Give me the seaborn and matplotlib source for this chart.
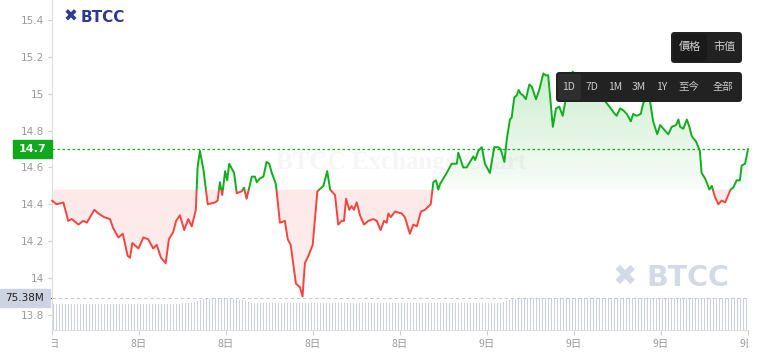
import numpy as np
import pandas as pd
import matplotlib
matplotlib.use("Agg")
import matplotlib.pyplot as plt
import seaborn as sns
from matplotlib.colors import LinearSegmentedColormap
from matplotlib.patches import Rectangle, FancyBboxPatch
from matplotlib.path import Path
from matplotlib.transforms import IdentityTransform

# ---------------- data ----------------
hours = [0.00, 0.16, 0.39, 0.56, 0.68, 0.91, 1.08, 1.20, 1.46, 1.60, 1.80, 2.00, 2.11, 2.29, 2.44,
         2.61, 2.69, 2.77, 2.98, 3.15, 3.32, 3.49, 3.61, 3.76, 3.92, 4.03, 4.18, 4.28, 4.41, 4.56,
         4.70, 4.82, 4.96, 5.02, 5.10, 5.22, 5.37, 5.62, 5.71, 5.79, 5.87, 5.97, 6.04, 6.11, 6.28,
         6.37, 6.54, 6.62, 6.71, 6.89, 7.00, 7.06, 7.17, 7.29, 7.40, 7.49, 7.58, 7.72, 7.86, 8.03,
         8.13, 8.23, 8.41, 8.55, 8.64, 8.72, 8.84, 8.99, 9.15, 9.36, 9.49, 9.59, 9.76, 9.87, 9.99,
         10.07, 10.14, 10.25, 10.33, 10.41, 10.51, 10.62, 10.76, 10.91, 11.08, 11.20, 11.33, 11.45,
         11.54, 11.60, 11.68, 11.83, 12.06, 12.17, 12.34, 12.46, 12.58, 12.72, 12.86, 13.06, 13.15,
         13.24, 13.32, 13.38, 13.61, 13.78, 13.96, 14.01, 14.18, 14.30, 14.41, 14.53, 14.59, 14.70,
         14.82, 14.93, 15.10, 15.25, 15.39, 15.47, 15.60, 15.68, 15.79, 15.85, 15.94, 16.02, 16.09,
         16.16, 16.25, 16.34, 16.46, 16.54, 16.69, 16.80, 16.94, 17.03, 17.11, 17.27, 17.38, 17.49,
         17.61, 17.75, 17.96, 18.14, 18.34, 18.55, 18.72, 18.90, 19.07, 19.22, 19.36, 19.47, 19.59,
         19.70, 19.82, 19.96, 20.04, 20.16, 20.30, 20.39, 20.53, 20.62, 20.73, 20.87, 20.97, 21.08,
         21.25, 21.37, 21.52, 21.60, 21.66, 21.77, 21.89, 21.98, 22.06, 22.21, 22.34, 22.40, 22.52,
         22.67, 22.75, 22.86, 22.98, 23.09, 23.21, 23.40, 23.49, 23.61, 23.72, 23.78, 23.90, 24.00]
price = [14.42, 14.40, 14.41, 14.31, 14.32, 14.29, 14.31, 14.30, 14.37, 14.35, 14.33, 14.32, 14.27, 14.22, 14.24,
         14.12, 14.11, 14.19, 14.16, 14.22, 14.21, 14.16, 14.18, 14.11, 14.08, 14.21, 14.25, 14.31, 14.34, 14.26,
         14.32, 14.28, 14.37, 14.60, 14.69, 14.59, 14.40, 14.41, 14.42, 14.52, 14.45, 14.58, 14.53, 14.62, 14.57,
         14.46, 14.47, 14.49, 14.43, 14.55, 14.55, 14.52, 14.54, 14.55, 14.63, 14.62, 14.57, 14.51, 14.30, 14.31,
         14.21, 14.18, 13.97, 13.95, 13.90, 14.08, 14.12, 14.18, 14.47, 14.50, 14.58, 14.48, 14.45, 14.29, 14.31,
         14.31, 14.43, 14.37, 14.39, 14.37, 14.41, 14.34, 14.29, 14.31, 14.32, 14.31, 14.26, 14.31,
         14.30, 14.35, 14.33, 14.36, 14.35, 14.33, 14.24, 14.29, 14.28, 14.36, 14.37, 14.40, 14.52,
         14.53, 14.48, 14.51, 14.57, 14.62, 14.62, 14.68, 14.60, 14.60, 14.63, 14.66, 14.64, 14.69,
         14.71, 14.62, 14.57, 14.71, 14.71, 14.70, 14.63, 14.75, 14.86, 14.87, 14.98, 14.99, 15.02,
         15.00, 14.99, 14.97, 15.05, 15.04, 14.97, 15.02, 15.11, 15.10, 15.10, 14.82, 14.92, 14.93,
         14.88, 15.00, 15.12, 15.05, 15.02, 14.97, 15.03, 14.99, 14.96, 14.93, 14.90, 14.88, 14.92,
         14.91, 14.89, 14.85, 14.89, 14.88, 14.89, 14.95, 14.98, 14.96, 14.85, 14.78, 14.83, 14.81,
         14.78, 14.82, 14.83, 14.86, 14.82, 14.81, 14.86, 14.82, 14.77, 14.74, 14.69, 14.57, 14.54,
         14.48, 14.50, 14.44, 14.40, 14.42, 14.41, 14.48, 14.49, 14.53, 14.53, 14.61, 14.62, 14.70]
base_price = 14.48
last_price = 14.7

volume_m = [
    61.2, 61.4, 61.3, 61.1, 61.3, 61.4, 61.2, 61.3, 61.5, 61.3,
    61.2, 61.4, 61.3, 61.2, 61.3, 61.4, 61.5, 61.3, 61.2, 61.4,
    61.3, 61.5, 61.4, 61.3, 61.6, 61.4, 61.5, 61.7, 61.5, 61.6,
    61.8, 61.6, 61.9, 62.0, 61.8, 62.1, 62.0, 62.2, 62.1, 62.3,
    62.2, 62.4, 62.3, 62.5, 62.6, 62.8,
    63.5, 65.5, 68.0, 70.5,
    72.5, 73.5, 74.2, 74.6, 74.8, 74.7, 74.5, 74.7, 74.4, 74.0, 73.4, 72.5, 71.2,
    69.5, 67.5, 65.8, 64.5,
    63.0, 62.9, 63.1, 63.0, 62.8, 63.0, 63.1, 62.9, 63.0, 63.2,
    63.1, 63.0, 62.9, 63.1, 63.0, 63.2, 63.4, 63.6, 63.8, 64.0,
    64.1, 64.0, 63.9, 63.8, 63.6, 63.4, 63.2, 63.1, 63.0, 62.9,
    63.0, 63.1, 62.9, 63.0, 63.2, 63.0, 62.8, 62.9, 63.0, 63.1,
    63.0, 62.9, 63.0, 63.2, 63.1, 63.0, 62.9, 63.0, 63.1, 63.0,
    62.9, 63.1, 63.2, 63.0, 62.9, 63.0, 63.1, 63.3, 63.2, 63.0,
    63.1, 63.2, 63.3, 63.1, 63.0, 63.2, 63.3, 63.4, 63.2, 63.3,
    63.4, 63.5, 63.3, 63.4, 63.5, 63.6, 63.5, 63.6, 63.7, 63.8,
    63.9, 64.0,
    64.5, 66.5, 68.5, 70.5, 72.5, 73.8, 74.6,
    74.8, 74.9, 75.0, 74.9, 75.1, 75.0, 74.9, 75.0, 75.1, 75.2,
    75.0, 74.9, 75.0, 75.1, 75.0, 75.2, 75.1, 75.0, 74.9, 75.0,
    75.1, 75.2, 75.3, 75.1, 75.0, 75.1, 75.2, 75.0, 74.9, 75.0,
    75.1, 75.0, 75.2, 75.1, 75.0, 75.1, 75.2, 75.3, 75.2, 75.1,
    75.0, 75.1, 75.2, 75.1, 75.0, 74.9, 75.0, 75.1, 75.2, 75.1,
    75.0, 75.1, 75.2, 75.3, 75.2, 75.1, 75.2, 75.3, 75.38, 75.2,
    75.1, 75.2, 75.3, 75.2, 75.1, 75.2, 75.3, 75.2, 75.3, 75.2,
    75.1, 75.2, 75.3, 75.2, 75.3, 75.2]
volume_label = "75.38M"

y_ticks = [13.8, 14.0, 14.2, 14.4, 14.6, 14.8, 15.0, 15.2, 15.4]
y_labels = ["13.8", "14", "14.2", "14.4", "14.6", "14.8", "15", "15.2", "15.4"]
x_ticks = [0, 3, 6, 9, 12, 15, 18, 21, 24]
x_labels = ["8日", "8日", "8日", "8日", "8日", "9日", "9日", "9日", "9日"]
range_buttons = ["1D", "7D", "1M", "3M", "1Y", "至今", "全部"]
mode_buttons = ["價格", "市值"]

# ---------------- style ----------------
GREEN = "#12ad1e"
RED = "#f4443f"
CJK = ["Noto Sans CJK TC", "DejaVu Sans"]

sns.set_theme(style="white")
plt.rcParams["font.family"] = CJK

W, H = 763, 359
fig = plt.figure(figsize=(W / 100, H / 100), dpi=100)
fig.patch.set_facecolor("white")


def fx(x):
    return x / W


def fy(y):
    return 1 - y / H


rect = [fx(52), fy(330), fx(748) - fx(52), fy(0) - fy(330)]
vax = fig.add_axes(rect, zorder=0)
ax = fig.add_axes(rect, zorder=1)
ax.patch.set_alpha(0)

df = pd.DataFrame({"hour": hours, "price": price})
n_vol = len(volume_m)
vdf = pd.DataFrame({"hour": [(i + 0.5) * 24 / n_vol for i in range(n_vol)], "vol": volume_m})

# volume bars
vax.bar(vdf["hour"], vdf["vol"], width=0.42 * 24 / n_vol, color="#c9d0e2", linewidth=0)
vax.set_xlim(0, 24)
vax.set_ylim(0, 75.38 * 330 / 32)
vax.axhline(75.38, color="#c9c9c9", lw=0.8, ls=(0, (3, 2.5)))
vax.axis("off")

YMIN = 14.7 - (330 - 149) / 184.3
YMAX = 14.7 + 149 / 184.3

# gradient fills
t = np.array(hours)
p = np.array(price)
pg = ax.fill_between(t, p, base_price, where=p >= base_price, interpolate=True, color="none", lw=0)
pr = ax.fill_between(t, p, base_price, where=p <= base_price, interpolate=True, color="none", lw=0)

cm_g = LinearSegmentedColormap.from_list("g", [(0.07, 0.68, 0.12, 0.03), (0.07, 0.68, 0.12, 0.22)])
cm_r = LinearSegmentedColormap.from_list("r", [(0.96, 0.27, 0.25, 0.12), (0.96, 0.27, 0.25, 0.08)])
grad = np.linspace(0, 1, 256).reshape(-1, 1)

img = ax.imshow(grad, extent=[0, 24, base_price, 15.15], origin="lower", aspect="auto", cmap=cm_g, zorder=1)
img.set_clip_path(Path.make_compound_path(*pg.get_paths()), transform=ax.transData)
imr = ax.imshow(grad, extent=[0, 24, base_price, 13.88], origin="lower", aspect="auto", cmap=cm_r, zorder=1)
imr.set_clip_path(Path.make_compound_path(*pr.get_paths()), transform=ax.transData)

# price line (green above base, red below)
sns.lineplot(data=df, x="hour", y="price", ax=ax, color=GREEN, lw=1.4, zorder=3)
lg = ax.lines[-1]
clip_g = Rectangle((-1, base_price), 30, 5, transform=ax.transData)
lg.set_clip_path(clip_g)
sns.lineplot(data=df, x="hour", y="price", ax=ax, color=RED, lw=1.4, zorder=3)
lr = ax.lines[-1]
clip_r = Rectangle((-1, base_price - 5), 30, 5, transform=ax.transData)
lr.set_clip_path(clip_r)

ax.axhline(last_price, color=GREEN, lw=0.9, ls=(0, (2, 2)), zorder=2)

ax.set_xlim(0, 24)
ax.set_ylim(YMIN, YMAX)
ax.set_xlabel("")
ax.set_ylabel("")
ax.set_yticks(y_ticks)
ax.set_yticklabels(y_labels)
ax.set_xticks(x_ticks)
ax.set_xticklabels([])
ax.tick_params(axis="y", length=3, width=0.8, color="#cfcfcf", labelcolor="#9a9a9a", labelsize=7.5, pad=3, left=True)
ax.tick_params(axis="x", length=3.5, width=0.8, color="#cfcfcf", bottom=True, direction="out")
for lab in ax.get_yticklabels():
    lab.set_fontfamily(["DejaVu Sans"])
for s in ["top", "right"]:
    ax.spines[s].set_visible(False)
ax.spines["left"].set_color("#dedede")
ax.spines["bottom"].set_color("#dedede")
ax.spines["left"].set_linewidth(0.8)
ax.spines["bottom"].set_linewidth(0.8)

# x labels, clipped to the plot width
lax = fig.add_axes([fx(52), fy(359), fx(748) - fx(52), fy(330) - fy(359)], zorder=2)
lax.set_xlim(0, 24)
lax.set_ylim(0, 1)
lax.axis("off")
for xt, xl in zip(x_ticks, x_labels):
    lax.text(xt, 0.52, xl, ha="center", va="center", fontsize=7.5, color="#9a9a9a",
             family=CJK, clip_on=True)

# last price tag
fig.patches.append(Rectangle((fx(13), fy(158)), fx(52) - fx(13), fy(140) - fy(158),
                             transform=fig.transFigure, color="#10a81c", zorder=5))
fig.text(fx(32), fy(149), "14.7", ha="center", va="center", color="white", fontsize=8,
         fontweight="bold", family=["DejaVu Sans"], zorder=6)

# volume tag
fig.patches.append(Rectangle((fx(0), fy(307)), fx(50) - fx(0), fy(289) - fy(307),
                             transform=fig.transFigure, color="#cdd3e2", zorder=5))
fig.text(fx(24), fy(298), volume_label, ha="center", va="center", color="#222222", fontsize=7.5,
         family=["DejaVu Sans"], zorder=6)
fig.lines.append(plt.Line2D([fx(47), fx(51)], [fy(298), fy(298)], transform=fig.transFigure,
                            color="#333333", lw=0.9))

# watermarks / logos
fig.text(fx(401), fy(163), "BTCC Exchange Chart", ha="center", va="center", fontsize=18,
         fontweight="bold", family=["Liberation Serif"], color="#f6f6f6", zorder=0.5)
fig.text(fx(625), fy(277), "✖", ha="center", va="center", fontsize=21, color="#d4d9e8",
         family=["DejaVu Sans"])
fig.text(fx(646), fy(278), "BTCC", ha="left", va="center", fontsize=20.5, fontweight="bold",
         color="#d4d9e8", family=["DejaVu Sans"])
fig.text(fx(71), fy(17), "✖", ha="center", va="center", fontsize=12, color="#2d3b8e",
         family=["DejaVu Sans"])
fig.text(fx(81), fy(17), "BTCC", ha="left", va="center", fontsize=11, fontweight="bold",
         color="#2d3b8e", family=["DejaVu Sans"])


# buttons
def rbox(x0, y0, x1, y1, color, r=3.5):
    fig.patches.append(FancyBboxPatch((x0, H - y1), x1 - x0, y1 - y0,
                                      boxstyle=f"round,pad=0,rounding_size={r}",
                                      transform=IdentityTransform(), fc=color, ec="none", zorder=7))


rbox(671, 32, 742, 63, "#222222")
rbox(673, 34, 707, 61, "#1a1a1a", r=3)
for xc, s in zip([690, 724], mode_buttons):
    fig.text(fx(xc), fy(47), s, ha="center", va="center", fontsize=8, color="#d0d0d0",
             family=CJK, zorder=8)

rbox(556, 72, 742, 102, "#222222")
rbox(558, 74, 581, 100, "#2e2e2e", r=3)
for xc, s in zip([569, 592, 615, 639, 662, 689, 723], range_buttons):
    fig.text(fx(xc), fy(87), s, ha="center", va="center", fontsize=7.5, color="#cccccc",
             family=CJK, zorder=8)

fig.savefig("out.png", dpi=100)
